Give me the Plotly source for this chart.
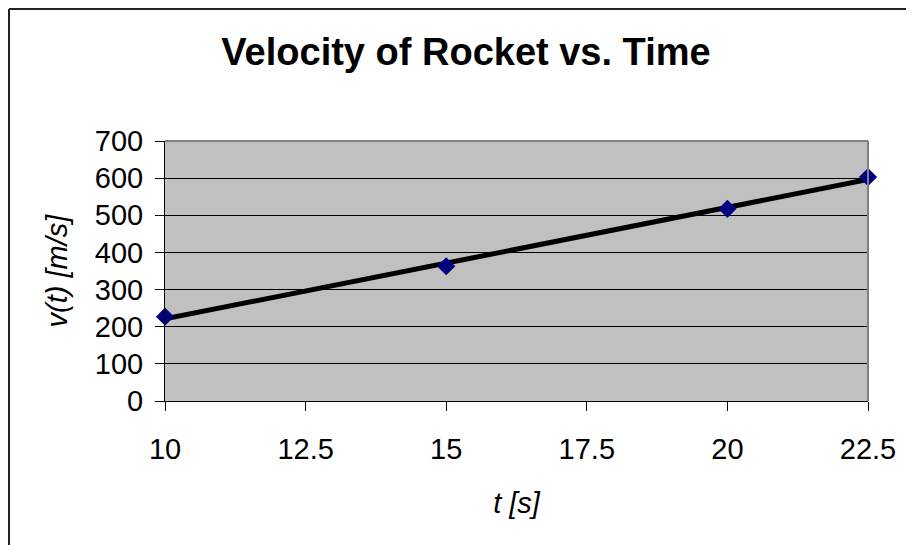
import plotly.graph_objects as go

# Data
time_s = [10, 15, 20, 22.5]
velocity_ms = [227.04, 362.78, 517.35, 602.97]
fit_time = [10, 22.5]
fit_velocity = [221.2, 596.4]
x_ticks = [10, 12.5, 15, 17.5, 20, 22.5]
x_tick_labels = ["10", "12.5", "15", "17.5", "20", "22.5"]
y_ticks = [0, 100, 200, 300, 400, 500, 600, 700]

# page is drawn with an 8px body margin
OFF = 8
W, H = 914 - OFF, 545 - OFF
L, T = 165 - OFF, 141 - OFF
pw, ph = 703, 260
R, B = W - L - pw, H - T - ph

def px_to_paper_x(px):
    return (px - L) / pw

def px_to_paper_y(py):
    return (H - B - py) / ph

fig = go.Figure()
fig.add_trace(go.Scatter(
    x=fit_time, y=fit_velocity, mode="lines",
    line=dict(color="#000000", width=5), cliponaxis=False, showlegend=False,
))
fig.add_trace(go.Scatter(
    x=time_s, y=velocity_ms, mode="markers",
    marker=dict(symbol="diamond", size=14, color="#000080"),
    cliponaxis=False, showlegend=False,
))

font = "Liberation Sans, Arial, sans-serif"
fig.update_layout(
    width=W, height=H,
    margin=dict(l=L, r=R, t=T, b=B, autoexpand=False),
    paper_bgcolor="#ffffff", plot_bgcolor="#C0C0C0",
    font=dict(family=font, color="#000000"),
    title=dict(text="<b>Velocity of Rocket vs. Time</b>", x=(466 - OFF) / W, xref="container",
               xanchor="center", y=1 - (52 - OFF) / H, yref="container", yanchor="middle",
               font=dict(size=38, family=font, color="#000000")),
    xaxis=dict(range=[10, 22.5], tickvals=x_ticks, ticktext=x_tick_labels,
               showgrid=False, zeroline=False, showline=True, linecolor="#000000", linewidth=1,
               ticks="outside", ticklen=9, tickcolor="#000000", tickwidth=1,
               ticklabelstandoff=13, tickfont=dict(size=29),
               title=dict(text="<i>t [s]</i>", font=dict(size=29), standoff=28)),
    yaxis=dict(range=[0, 700], tickvals=y_ticks,
               showgrid=True, gridcolor="#000000", gridwidth=1, zeroline=False,
               showline=True, linecolor="#000000", linewidth=1,
               ticks="outside", ticklen=9, tickcolor="#000000", tickwidth=1,
               ticklabelstandoff=6, tickfont=dict(size=29),
               title=dict(text="<i>v(t) [m/s]</i>", font=dict(size=29), standoff=18)),
    shapes=[
        # plot area top/right border (gray)
        dict(type="line", xref="paper", yref="paper", x0=0, x1=1, y0=1, y1=1,
             line=dict(color="#808080", width=2)),
        dict(type="line", xref="paper", yref="paper", x0=1, x1=1, y0=0, y1=1,
             line=dict(color="#808080", width=2)),
        # chart frame (left and top)
        dict(type="line", xref="paper", yref="paper",
             x0=px_to_paper_x(1), x1=px_to_paper_x(1), y0=px_to_paper_y(1), y1=px_to_paper_y(H + 5),
             line=dict(color="#222222", width=2)),
        dict(type="line", xref="paper", yref="paper",
             x0=px_to_paper_x(1), x1=px_to_paper_x(W + 5), y0=px_to_paper_y(1), y1=px_to_paper_y(1),
             line=dict(color="#222222", width=2)),
    ],
)

fig.write_html("out.html")
